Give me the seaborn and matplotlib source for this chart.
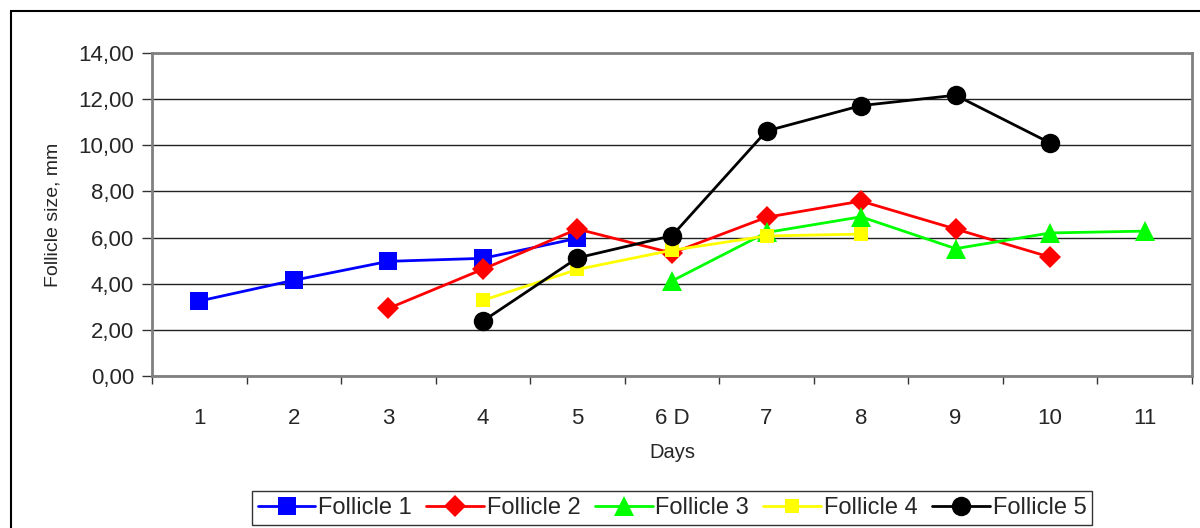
import matplotlib
matplotlib.use("Agg")
import matplotlib.pyplot as plt
from matplotlib.lines import Line2D
from matplotlib.ticker import FuncFormatter, FixedLocator
import seaborn as sns
import pandas as pd

sns.set_theme(style="white")
plt.rcParams['font.family'] = ['Liberation Sans', 'DejaVu Sans']

# Data
days = ['1', '2', '3', '4', '5', '6 D', '7', '8', '9', '10', '11']
follicle1 = [3.25, 4.15, 4.97, 5.10, 5.97, None, None, None, None, None, None]
follicle2 = [None, None, 2.93, 4.63, 6.37, 5.33, 6.88, 7.58, 6.37, 5.15, None]
follicle3 = [None, None, None, None, None, 4.12, 6.22, 6.90, 5.52, 6.20, 6.28]
follicle4 = [None, None, None, 3.28, 4.62, 5.45, 6.07, 6.15, None, None, None]
follicle5 = [None, None, None, 2.38, 5.12, 6.08, 10.62, 11.72, 12.17, 10.10, None]

series = {
    'Follicle 1': follicle1,
    'Follicle 2': follicle2,
    'Follicle 3': follicle3,
    'Follicle 4': follicle4,
    'Follicle 5': follicle5,
}
colors = {'Follicle 1': '#0000ff', 'Follicle 2': '#ff0000', 'Follicle 3': '#00ff00',
          'Follicle 4': '#ffff00', 'Follicle 5': '#000000'}
markers = {'Follicle 1': 's', 'Follicle 2': 'D', 'Follicle 3': '^',
           'Follicle 4': 's', 'Follicle 5': 'o'}
msizes = {'Follicle 1': 13, 'Follicle 2': 11, 'Follicle 3': 14,
          'Follicle 4': 10, 'Follicle 5': 14}

rows = []
for name, vals in series.items():
    for i, v in enumerate(vals):
        if v is not None:
            rows.append({'pos': i, 'day': days[i], 'size': v, 'follicle': name})
df = pd.DataFrame(rows)

fig = plt.figure(figsize=(12, 5.28), dpi=100)
ax = fig.add_axes([0.1267, 0.2879, 0.9933 - 0.1267, 0.8996 - 0.2879])

for name in series:
    sub = df[df['follicle'] == name]
    sns.lineplot(data=sub, x='pos', y='size', ax=ax, color=colors[name],
                 marker=markers[name], markersize=msizes[name], linewidth=2,
                 markeredgewidth=0, label=name)

ax.set_xlim(-0.5, len(days) - 0.5)
ax.set_ylim(0, 14)
ax.set_yticks(range(0, 15, 2))
ax.yaxis.set_major_formatter(FuncFormatter(lambda v, p: f"{v:.2f}".replace('.', ',')))
ax.set_xticks(range(len(days)))
ax.set_xticklabels(days)
ax.xaxis.set_minor_locator(FixedLocator([i - 0.5 for i in range(len(days) + 1)]))
ax.tick_params(axis='x', which='major', length=0, pad=23, labelsize=16)
ax.tick_params(axis='x', which='minor', length=6, width=1, color='#333333', direction='out', bottom=True)
ax.tick_params(axis='y', length=7, width=1, color='#333333', direction='out', left=True, labelsize=16, pad=6)

ax.yaxis.grid(True, color='#222222', linewidth=1)
ax.set_axisbelow(True)
for s in ax.spines.values():
    s.set_color('#808080')
    s.set_linewidth(2)

ax.set_xlabel('Days', fontsize=14.5, labelpad=10)
ax.set_ylabel('Follicle size, mm', fontsize=14, labelpad=12)

leg = ax.legend(loc='upper center', bbox_to_anchor=(0.5, -0.356), ncol=5,
                fontsize=17, frameon=True, fancybox=False, handlelength=2.45,
                handletextpad=0.12, columnspacing=0.6, borderpad=0.25, borderaxespad=0)
leg.get_frame().set_edgecolor('#000000')
leg.get_frame().set_linewidth(1)

# outer chart frame
fig.add_artist(Line2D([11 / 1200, 1.05], [1 - 11 / 528, 1 - 11 / 528], color='black', lw=1.5,
                      transform=fig.transFigure))
fig.add_artist(Line2D([11 / 1200, 11 / 1200], [1 - 11 / 528, -0.05], color='black', lw=1.5,
                      transform=fig.transFigure))

fig.savefig('out.png', dpi=100)
